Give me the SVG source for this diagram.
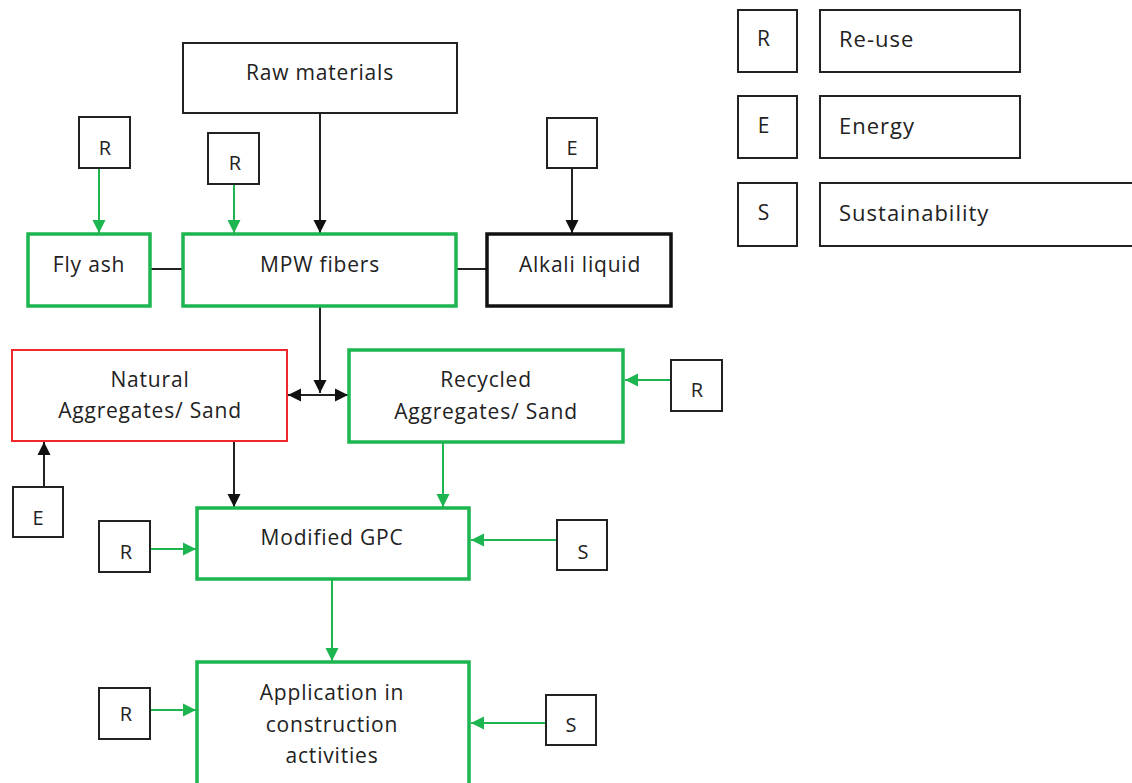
<svg xmlns="http://www.w3.org/2000/svg" width="1132" height="783" viewBox="0 0 1132 783">
<style>
text{font-family:"Open Sans","Liberation Sans",sans-serif;font-size:21px;letter-spacing:0.8px;fill:#222;text-anchor:middle;dominant-baseline:central}
.lg{text-anchor:start;font-size:22px;letter-spacing:1px}
.s{font-size:20px;letter-spacing:0}
.k{fill:#fff;stroke:#222;stroke-width:2}
.g{fill:#fff;stroke:#1db550;stroke-width:3.5}
.bk{fill:#fff;stroke:#111;stroke-width:3.5}
.rd{fill:#fff;stroke:#f0282d;stroke-width:2}
.cb{stroke:#222;stroke-width:2;fill:none}
.cg{stroke:#1db550;stroke-width:2;fill:none}
</style>
<defs>
<marker id="ab" markerUnits="userSpaceOnUse" markerWidth="16" markerHeight="16" refX="13" refY="8" orient="auto-start-reverse"><path d="M0,1.5 L13,8 L0,14.5 Z" fill="#111"/></marker>
<marker id="ag" markerUnits="userSpaceOnUse" markerWidth="16" markerHeight="16" refX="13" refY="8" orient="auto"><path d="M0,1.5 L13,8 L0,14.5 Z" fill="#1db550"/></marker>
</defs>
<rect width="1132" height="783" fill="#fff"/>

<g id="connectors">
<line class="cb" x1="320" y1="113" x2="320" y2="233" marker-end="url(#ab)"/>
<line class="cg" x1="99" y1="168" x2="99" y2="233" marker-end="url(#ag)"/>
<line class="cg" x1="234" y1="184" x2="234" y2="233" marker-end="url(#ag)"/>
<line class="cb" x1="572" y1="168" x2="572" y2="233" marker-end="url(#ab)"/>
<line class="cb" x1="150" y1="269" x2="183" y2="269"/>
<line class="cb" x1="456" y1="269" x2="487" y2="269"/>
<line class="cb" x1="320" y1="306" x2="320" y2="393" marker-end="url(#ab)"/>
<line class="cb" x1="288" y1="395" x2="348" y2="395" marker-start="url(#ab)" marker-end="url(#ab)"/>
<line class="cg" x1="671" y1="380" x2="625" y2="380" marker-end="url(#ag)"/>
<line class="cb" x1="44" y1="487" x2="44" y2="442" marker-end="url(#ab)"/>
<line class="cb" x1="234" y1="441" x2="234" y2="507" marker-end="url(#ab)"/>
<line class="cg" x1="443" y1="442" x2="443" y2="507" marker-end="url(#ag)"/>
<line class="cg" x1="150" y1="549" x2="196" y2="549" marker-end="url(#ag)"/>
<line class="cg" x1="557" y1="540" x2="471" y2="540" marker-end="url(#ag)"/>
<line class="cg" x1="332" y1="580" x2="332" y2="661" marker-end="url(#ag)"/>
<line class="cg" x1="150" y1="710" x2="196" y2="710" marker-end="url(#ag)"/>
<line class="cg" x1="546" y1="723" x2="471" y2="723" marker-end="url(#ag)"/>
</g>

<g id="raw"><rect class="k" x="183" y="43" width="274" height="70"/><text x="320" y="72">Raw materials</text></g>
<g id="r1"><rect class="k" x="79" y="117" width="51" height="51"/><text class="s" x="105" y="147">R</text></g>
<g id="r2"><rect class="k" x="208" y="133" width="51" height="51"/><text class="s" x="235" y="162">R</text></g>
<g id="e1"><rect class="k" x="547" y="118" width="50" height="50"/><text class="s" x="572" y="147">E</text></g>
<g id="flyash"><rect class="g" x="28" y="234" width="122" height="72"/><text x="89" y="264">Fly ash</text></g>
<g id="mpw"><rect class="g" x="183" y="234" width="273" height="72"/><text x="320" y="264">MPW fibers</text></g>
<g id="alkali"><rect class="bk" x="487" y="234" width="184" height="72"/><text x="580" y="264">Alkali liquid</text></g>
<g id="natural"><rect class="rd" x="12" y="350" width="275" height="91"/><text x="150" y="379">Natural</text><text x="150" y="410">Aggregates/ Sand</text></g>
<g id="recycled"><rect class="g" x="349" y="350" width="274" height="92"/><text x="486" y="379">Recycled</text><text x="486" y="411">Aggregates/ Sand</text></g>
<g id="r3"><rect class="k" x="671" y="360" width="51" height="51"/><text class="s" x="697" y="389">R</text></g>
<g id="e2"><rect class="k" x="13" y="487" width="50" height="50"/><text class="s" x="38" y="517">E</text></g>
<g id="gpc"><rect class="g" x="197" y="508" width="272" height="71"/><text x="332" y="537">Modified GPC</text></g>
<g id="r4"><rect class="k" x="99" y="521" width="51" height="51"/><text class="s" x="126" y="551">R</text></g>
<g id="s1"><rect class="k" x="557" y="520" width="50" height="50"/><text class="s" x="583" y="551">S</text></g>
<g id="app"><rect class="g" x="197" y="662" width="272" height="130"/><text x="332" y="692">Application in</text><text x="332" y="724">construction</text><text x="332" y="755">activities</text></g>
<g id="r5"><rect class="k" x="99" y="688" width="51" height="51"/><text class="s" x="126" y="713">R</text></g>
<g id="s2"><rect class="k" x="546" y="695" width="50" height="50"/><text class="s" x="571" y="724">S</text></g>

<g id="legend">
<rect class="k" x="738" y="10" width="59" height="62"/><text x="764" y="38">R</text>
<rect class="k" x="820" y="10" width="200" height="62"/><text class="lg" x="839" y="38">Re-use</text>
<rect class="k" x="738" y="96" width="59" height="62"/><text x="764" y="125">E</text>
<rect class="k" x="820" y="96" width="200" height="62"/><text class="lg" x="839" y="125">Energy</text>
<rect class="k" x="738" y="183" width="59" height="63"/><text x="764" y="212">S</text>
<rect class="k" x="820" y="183" width="330" height="63"/><text class="lg" x="839" y="212">Sustainability</text>
</g>
</svg>
